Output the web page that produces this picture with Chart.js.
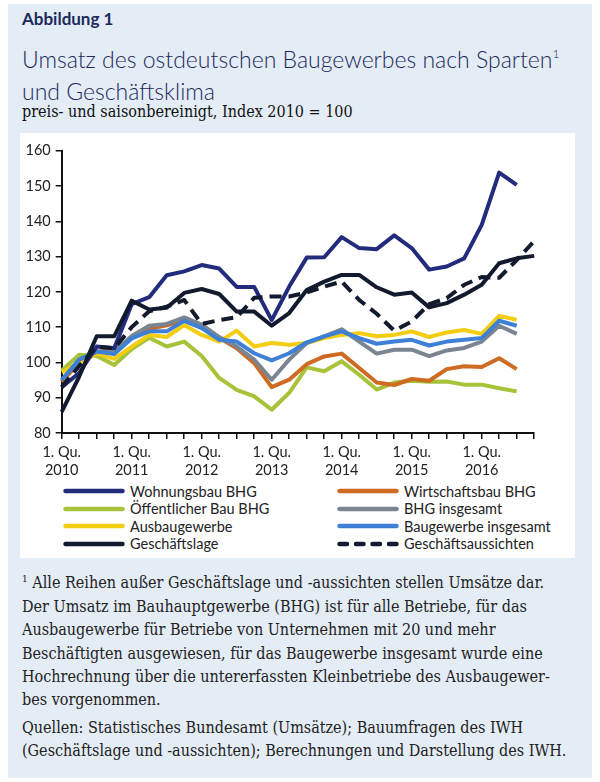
<!DOCTYPE html>
<html lang="de">
<head>
<meta charset="utf-8">
<script src="https://cdn.jsdelivr.net/npm/chart.js@4.4.1/dist/chart.umd.min.js"></script>
<style>
  body { margin: 0; width: 600px; height: 782px; position: relative; overflow: hidden; background: #fff; font-family: Lato, sans-serif; }
  #panel { position: absolute; left: 8px; top: 4px; width: 584px; height: 774px; background: #e4ecf6; }
  #box { position: absolute; left: 20px; top: 133px; width: 555px; height: 425px; background: #fff; }
  .fig { position: absolute; left: 22px; top: 8px; font-size: 17px; font-weight: 700; color: #1b2a5c; }
  .title { position: absolute; left: 22px; top: 38px; font-size: 23px; font-weight: 300; color: #1b2a5c; line-height: 32px; }
  .title sup { font-size: 12px; vertical-align: 10px; }
  .sub { position: absolute; left: 22px; top: 102px; font-family: "DejaVu Serif Condensed", "DejaVu Serif", serif; font-stretch: condensed; font-size: 16px; color: #111; }
  #wrap { position: absolute; left: 20px; top: 135px; width: 552px; height: 342px; }
  #legend { position: absolute; left: 0; top: 0; }
  .item { position: absolute; height: 18px; display: flex; align-items: center; font-size: 14.5px; color: #222; white-space: nowrap; }
  .item svg { margin-right: 5px; }
  .note { position: absolute; left: 22px; top: 567px; font-family: "DejaVu Serif Condensed", "DejaVu Serif", serif; font-stretch: condensed; font-size: 16px; line-height: 23.4px; color: #222; }
</style>
</head>
<body>
<div id="panel"></div>
<div id="box"></div>
<div class="fig">Abbildung 1</div>
<div class="title">Umsatz des ostdeutschen Baugewerbes nach Sparten<sup>1</sup><br>und Geschäftsklima</div>
<div class="sub">preis- und saisonbereinigt, Index 2010 = 100</div>
<div id="wrap"><canvas id="chart"></canvas></div>
<div id="legend"></div>
<div class="note"><sup style="font-size:10px">1</sup> Alle Reihen außer Geschäftslage und -aussichten stellen Umsätze dar.<br>Der Umsatz im Bauhauptgewerbe (BHG) ist für alle Betriebe, für das<br>Ausbaugewerbe für Betriebe von Unternehmen mit 20 und mehr<br>Beschäftigten ausgewiesen, für das Baugewerbe insgesamt wurde eine<br>Hochrechnung über die untererfassten Kleinbetriebe des Ausbaugewer-<br>bes vorgenommen.<div style="height:4px"></div>Quellen: Statistisches Bundesamt (Umsätze); Bauumfragen des IWH<br>(Geschäftslage und -aussichten); Berechnungen und Darstellung des IWH.</div>
<script>
// Quartale 1. Qu. 2010 bis 4. Qu. 2016
const years = ["2010", "2011", "2012", "2013", "2014", "2015", "2016"];
const quarters = ["1. Qu.", "2. Qu.", "3. Qu.", "4. Qu."];

// Umsätze (bis 3. Qu. 2016)
const wohnungsbau = [93, 97, 104.5, 104, 116.5, 118.5, 124.7, 125.8, 127.6, 126.6, 121.4, 121.4, 112, 121.5, 129.7, 129.8, 135.5, 132.4, 132.1, 136, 132.4, 126.3, 127.2, 129.5, 139, 153.8, 150.3];
const wirtschaftsbau = [94.5, 100, 103, 103.5, 107, 109.5, 110.5, 112, 110.5, 107, 104, 99.8, 93, 95.1, 99.5, 101.7, 102.5, 98.4, 94.3, 93.6, 95.3, 94.8, 98.1, 98.9, 98.7, 101.2, 98.1];
const oeffentlich = [97.7, 102.2, 101.8, 99.3, 103.8, 107, 104.5, 105.9, 101.8, 95.6, 92.2, 90.4, 86.6, 91.4, 98.6, 97.5, 100.3, 96.5, 92.3, 94.3, 94.8, 94.5, 94.6, 93.7, 93.7, 92.7, 91.8];
const bhgGesamt = [95, 100.8, 103, 103, 107.5, 110.4, 110.9, 112.8, 110.7, 107.2, 104.5, 100.8, 95.1, 100.8, 105.5, 107.4, 109.4, 105.9, 102.5, 103.6, 103.6, 101.8, 103.4, 104.1, 105.9, 110.4, 108.1];
const ausbau = [97.3, 99.8, 102.5, 101, 104.5, 107.8, 107.2, 110.6, 107.8, 105.9, 109, 104.5, 105.5, 105, 105.5, 106.9, 107.8, 108.3, 107.4, 107.8, 108.8, 107.2, 108.5, 109.2, 108.1, 113.2, 112.1];
const baugewerbe = [95, 100.8, 103.1, 102.4, 106.8, 108.8, 108.8, 111.8, 109.7, 106.4, 105.9, 102.6, 100.6, 102.6, 105.7, 107.4, 108.8, 106.9, 105.3, 105.9, 106.4, 104.8, 105.9, 106.4, 106.9, 111.8, 110.4];

// Umfragen (bis 4. Qu. 2016)
const lage = [86, 96, 107.4, 107.4, 117.5, 115, 115.5, 119.7, 120.8, 119.4, 114.4, 114.4, 110.4, 114, 120.5, 122.9, 124.8, 124.8, 121.3, 119.2, 119.8, 115.6, 116.8, 119.2, 122, 128.1, 129.5, 130.2];
const aussichten = [93, 99, 104.5, 104, 110, 114.5, 115.8, 117.7, 110.9, 112, 112.8, 118.3, 118.7, 118.7, 119.8, 121.5, 122.9, 117.7, 113.8, 109, 111.6, 116.5, 118.2, 122, 124.2, 124, 129, 134.4];

const labels = [];
years.forEach(y => quarters.forEach(q => labels.push(q + " " + y)));

const series = [
    { label: "Wohnungsbau BHG", data: wohnungsbau, color: "#232b7c", order: 3 },
    { label: "Wirtschaftsbau BHG", data: wirtschaftsbau, color: "#cf6a22", order: 7 },
    { label: "Öffentlicher Bau BHG", data: oeffentlich, color: "#a6c33a", order: 8 },
    { label: "BHG insgesamt", data: bhgGesamt, color: "#7b8591", order: 5 },
    { label: "Ausbaugewerbe", data: ausbau, color: "#f2cd12", order: 6 },
    { label: "Baugewerbe insgesamt", data: baugewerbe, color: "#3d80d6", order: 4 },
    { label: "Geschäftslage", data: lage, color: "#121a2e", order: 1 },
    { label: "Geschäftsaussichten", data: aussichten, color: "#121a2e", order: 2, dash: [12, 7] }
];

const axisColor = "#111";
const tickFont = { family: "Lato", size: 14.5 };

new Chart(document.getElementById("chart"), {
    type: "line",
    data: {
        labels: labels,
        datasets: series.map(s => ({
            label: s.label,
            data: s.data,
            borderColor: s.color,
            backgroundColor: s.color,
            borderWidth: 4,
            borderDash: s.dash || [],
            borderJoinStyle: "round",
            pointRadius: 0,
            tension: 0,
            order: s.order
        }))
    },
    options: {
        responsive: true,
        maintainAspectRatio: false,
        animation: false,
        layout: { padding: { top: 15.7, right: 37.8, bottom: 0, left: 0 } },
        plugins: { legend: { display: false }, tooltip: { enabled: false } },
        scales: {
            x: {
                grid: { drawOnChartArea: false, drawTicks: true, tickLength: 6, color: axisColor, lineWidth: 1.5 },
                border: { color: axisColor, width: 2 },
                ticks: {
                    autoSkip: false,
                    maxRotation: 0,
                    padding: 4,
                    color: "#222",
                    font: { family: "Lato", size: 14.5, lineHeight: 1.25 },
                    callback: (v, i) => i % 4 === 0 ? ["1. Qu.", years[i / 4]] : ""
                },
                afterFit: s => { s.height = 44; }
            },
            y: {
                min: 80,
                max: 160,
                ticks: { stepSize: 10, padding: 5, color: "#222", font: tickFont },
                grid: { drawOnChartArea: false, drawTicks: true, tickLength: 6, color: axisColor, lineWidth: 1.5 },
                border: { color: axisColor, width: 2 },
                afterFit: s => { s.width = 41.7; }
            }
        }
    }
});

// Legende in zwei Spalten
const legend = document.getElementById("legend");
const cols = [63, 337];
const rows = [491, 508.5, 526, 543.5];
series.forEach((s, i) => {
    const el = document.createElement("div");
    el.className = "item";
    el.style.left = cols[i % 2] + "px";
    el.style.top = (rows[Math.floor(i / 2)] - 9) + "px";
    const dash = s.dash ? ' stroke-dasharray="7.5 9"' : "";
    el.innerHTML = '<svg width="62" height="8"><line x1="2.5" y1="4" x2="59.5" y2="4" stroke="' + s.color +
        '" stroke-width="4.5" stroke-linecap="round"' + dash + '/></svg>' + s.label;
    legend.appendChild(el);
});
</script>
</body>
</html>
